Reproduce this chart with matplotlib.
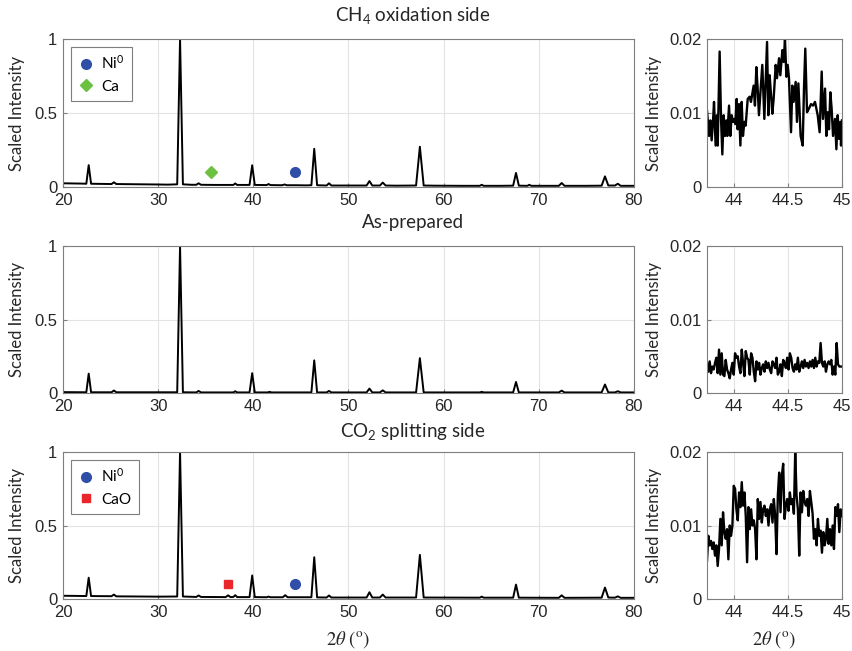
import numpy as np
import matplotlib
matplotlib.use("Agg")
import matplotlib.pyplot as plt
from matplotlib.lines import Line2D

plt.rcParams['font.family'] = ['Liberation Sans', 'DejaVu Sans']
plt.rcParams['mathtext.default'] = 'regular'

# full scans, 2theta (deg) and scaled intensity
ch4_x = [20.0, 21.0, 22.0, 22.45, 22.7, 22.95, 24.0, 25.1, 25.35, 25.6, 27.0, 28.5, 30.0, 31.0,
         32.0, 32.3, 32.6, 33.5, 34.0, 34.25, 34.5, 36.0, 37.9, 38.1, 38.3, 39.6, 39.88, 40.15,
         41.4, 41.6, 41.8, 43.0, 43.3, 43.5, 44.5, 45.5, 46.1, 46.4, 46.7, 47.7, 47.95, 48.2,
         50.0, 51.9, 52.2, 52.5, 53.3, 53.6, 53.9, 55.0, 57.1, 57.5, 57.9, 59.0, 62.0, 63.8,
         64.0, 64.2, 66.0, 67.3, 67.6, 67.9, 68.8, 69.0, 69.2, 72.1, 72.4, 72.7, 75.0, 76.6,
         76.95, 77.3, 78.0, 78.3, 78.6, 80.0]
ch4_y = [0.025, 0.024, 0.023, 0.022, 0.148, 0.022, 0.021, 0.020, 0.032, 0.020, 0.019, 0.018, 0.017, 0.016,
         0.018, 1.0, 0.018, 0.015, 0.015, 0.025, 0.015, 0.014, 0.014, 0.024, 0.014, 0.014, 0.147, 0.014,
         0.013, 0.020, 0.013, 0.012, 0.017, 0.012, 0.012, 0.011, 0.012, 0.258, 0.012, 0.010, 0.025, 0.010,
         0.010, 0.010, 0.040, 0.010, 0.010, 0.030, 0.010, 0.009, 0.010, 0.272, 0.010, 0.009, 0.008, 0.008,
         0.015, 0.008, 0.008, 0.009, 0.095, 0.009, 0.008, 0.015, 0.008, 0.008, 0.027, 0.008, 0.008, 0.009,
         0.072, 0.010, 0.010, 0.022, 0.008, 0.008]

prep_x = [20.0, 22.45, 22.7, 22.95, 25.1, 25.35, 25.6, 32.0, 32.3, 32.6, 34.0, 34.25, 34.5, 37.9,
          38.1, 38.3, 39.6, 39.88, 40.15, 41.5, 41.7, 41.9, 46.1, 46.4, 46.7, 47.7, 47.95, 48.2,
          51.9, 52.2, 52.5, 53.3, 53.6, 53.9, 57.1, 57.5, 57.9, 63.8, 64.0, 64.2, 67.3, 67.6,
          67.9, 72.1, 72.4, 72.7, 76.6, 76.95, 77.3, 78.0, 78.3, 78.6, 80.0]
prep_y = [0.006, 0.005, 0.132, 0.005, 0.005, 0.017, 0.005, 0.005, 1.0, 0.005, 0.004, 0.014, 0.004, 0.004,
          0.012, 0.004, 0.004, 0.135, 0.004, 0.004, 0.008, 0.004, 0.004, 0.222, 0.004, 0.004, 0.014, 0.004,
          0.004, 0.030, 0.004, 0.004, 0.018, 0.004, 0.004, 0.237, 0.004, 0.004, 0.008, 0.004, 0.004, 0.075,
          0.004, 0.004, 0.016, 0.004, 0.004, 0.058, 0.004, 0.004, 0.012, 0.004, 0.004]

co2_x = [20.0, 21.5, 22.45, 22.7, 22.95, 25.1, 25.35, 25.6, 28.0, 30.0, 32.0, 32.3, 32.6, 34.0,
         34.25, 34.5, 37.1, 37.35, 37.6, 37.9, 38.1, 38.3, 39.6, 39.88, 40.15, 41.4, 41.6, 41.8,
         43.1, 43.35, 43.6, 46.1, 46.4, 46.7, 47.7, 47.95, 48.2, 51.9, 52.2, 52.5, 53.3, 53.6,
         53.9, 57.1, 57.5, 57.9, 63.8, 64.0, 64.2, 67.3, 67.6, 67.9, 72.1, 72.4, 72.7, 76.6,
         76.95, 77.3, 78.0, 78.3, 78.6, 80.0]
co2_y = [0.022, 0.021, 0.020, 0.145, 0.020, 0.019, 0.030, 0.018, 0.017, 0.016, 0.017, 1.0, 0.017, 0.014,
         0.024, 0.014, 0.013, 0.025, 0.013, 0.014, 0.026, 0.013, 0.013, 0.160, 0.013, 0.012, 0.016, 0.012,
         0.012, 0.026, 0.012, 0.012, 0.284, 0.011, 0.010, 0.024, 0.010, 0.010, 0.046, 0.010, 0.010, 0.030,
         0.010, 0.010, 0.300, 0.010, 0.009, 0.016, 0.009, 0.009, 0.098, 0.009, 0.008, 0.025, 0.008, 0.009,
         0.078, 0.010, 0.009, 0.018, 0.008, 0.008]

# close-up around the Ni(111) position
ch4_zx = [43.750, 43.760, 43.769, 43.781, 43.793, 43.806, 43.815, 43.830, 43.843, 43.849, 43.867, 43.880,
          43.892, 43.904, 43.917, 43.929, 43.938, 43.954, 43.966, 43.978, 43.991, 44.003, 44.012, 44.025,
          44.034, 44.046, 44.059, 44.071, 44.083, 44.096, 44.108, 44.127, 44.145, 44.157, 44.182, 44.194,
          44.207, 44.219, 44.231, 44.244, 44.262, 44.281, 44.306, 44.318, 44.330, 44.343, 44.355, 44.367,
          44.386, 44.398, 44.417, 44.429, 44.448, 44.460, 44.472, 44.485, 44.497, 44.509, 44.528, 44.540,
          44.552, 44.571, 44.583, 44.596, 44.617, 44.636, 44.648, 44.660, 44.676, 44.694, 44.713, 44.731,
          44.750, 44.775, 44.793, 44.812, 44.824, 44.843, 44.855, 44.867, 44.880, 44.892, 44.904, 44.917,
          44.935, 44.948, 44.960, 44.972, 44.985, 44.991, 45.000]
ch4_zy = [0.0103, 0.0085, 0.0069, 0.0090, 0.0063, 0.0090, 0.0115, 0.0056, 0.0097, 0.0056, 0.0183, 0.0092,
          0.0044, 0.0097, 0.0069, 0.0090, 0.0069, 0.0110, 0.0069, 0.0097, 0.0088, 0.0092, 0.0085, 0.0119,
          0.0078, 0.0112, 0.0056, 0.0115, 0.0069, 0.0088, 0.0083, 0.0119, 0.0122, 0.0115, 0.0137, 0.0110,
          0.0162, 0.0133, 0.0097, 0.0126, 0.0165, 0.0092, 0.0196, 0.0097, 0.0151, 0.0124, 0.0099, 0.0119,
          0.0165, 0.0147, 0.0174, 0.0151, 0.0185, 0.0169, 0.0200, 0.0149, 0.0165, 0.0147, 0.0074, 0.0137,
          0.0115, 0.0142, 0.0088, 0.0140, 0.0069, 0.0056, 0.0133, 0.0187, 0.0101, 0.0106, 0.0112, 0.0110,
          0.0115, 0.0097, 0.0074, 0.0156, 0.0092, 0.0133, 0.0069, 0.0101, 0.0078, 0.0128, 0.0106, 0.0069,
          0.0092, 0.0051, 0.0097, 0.0065, 0.0088, 0.0056, 0.0090]

prep_zy = [0.0041, 0.0029, 0.0043, 0.0027, 0.0036, 0.0032, 0.0041, 0.0048, 0.0027, 0.0059, 0.0025, 0.0054,
           0.0025, 0.0023, 0.0045, 0.0032, 0.0027, 0.0020, 0.0032, 0.0041, 0.0025, 0.0054, 0.0048, 0.0050,
           0.0036, 0.0027, 0.0059, 0.0041, 0.0023, 0.0057, 0.0048, 0.0045, 0.0025, 0.0054, 0.0048, 0.0029,
           0.0016, 0.0043, 0.0032, 0.0041, 0.0025, 0.0034, 0.0039, 0.0029, 0.0043, 0.0034, 0.0041, 0.0032,
           0.0027, 0.0043, 0.0039, 0.0034, 0.0048, 0.0025, 0.0029, 0.0039, 0.0023, 0.0045, 0.0041, 0.0034,
           0.0048, 0.0032, 0.0054, 0.0048, 0.0034, 0.0029, 0.0039, 0.0032, 0.0048, 0.0029, 0.0036, 0.0043,
           0.0034, 0.0045, 0.0036, 0.0041, 0.0034, 0.0043, 0.0036, 0.0045, 0.0034, 0.0048, 0.0036, 0.0043,
           0.0041, 0.0068, 0.0041, 0.0036, 0.0043, 0.0029, 0.0039, 0.0043, 0.0039, 0.0045, 0.0025, 0.0036,
           0.0025, 0.0068, 0.0039, 0.0036, 0.0036, 0.0036]

co2_zy = [0.0052, 0.0086, 0.0073, 0.0079, 0.0068, 0.0077, 0.0059, 0.0073, 0.0045, 0.0068, 0.0109, 0.0073,
          0.0118, 0.0091, 0.0082, 0.0095, 0.0054, 0.0100, 0.0086, 0.0100, 0.0154, 0.0150, 0.0122, 0.0107,
          0.0145, 0.0125, 0.0159, 0.0127, 0.0145, 0.0113, 0.0050, 0.0125, 0.0095, 0.0122, 0.0100, 0.0107,
          0.0095, 0.0054, 0.0136, 0.0109, 0.0132, 0.0104, 0.0122, 0.0127, 0.0113, 0.0122, 0.0100, 0.0122,
          0.0129, 0.0104, 0.0136, 0.0113, 0.0061, 0.0141, 0.0172, 0.0118, 0.0168, 0.0184, 0.0109, 0.0127,
          0.0136, 0.0120, 0.0145, 0.0129, 0.0136, 0.0116, 0.0200, 0.0141, 0.0122, 0.0059, 0.0145, 0.0118,
          0.0147, 0.0132, 0.0127, 0.0136, 0.0113, 0.0147, 0.0132, 0.0116, 0.0082, 0.0095, 0.0073, 0.0109,
          0.0086, 0.0093, 0.0063, 0.0091, 0.0073, 0.0082, 0.0109, 0.0075, 0.0095, 0.0073, 0.0100, 0.0068,
          0.0125, 0.0113, 0.0129, 0.0091, 0.0122, 0.0113]

titles = ['CH$_4$ oxidation side', 'As-prepared', 'CO$_2$ splitting side']

# phase markers: (label, x, y, marker, color)
ch4_marks = [('Ni$^0$', 44.4, 0.1, 'o', '#2f4ea8'), ('Ca', 35.6, 0.1, 'D', '#6cc142')]
co2_marks = [('Ni$^0$', 44.4, 0.1, 'o', '#2f4ea8'), ('CaO', 37.3, 0.1, 's', '#e8262b')]

rows = [
    (ch4_x, ch4_y, ch4_zx, ch4_zy, ch4_marks),
    (prep_x, prep_y, np.linspace(43.75, 45.0, len(prep_zy)), prep_zy, None),
    (co2_x, co2_y, np.linspace(43.75, 45.0, len(co2_zy)), co2_zy, co2_marks),
]

label_font = ['Lato', 'DejaVu Sans']
spine_col = '#7f7f7f'
grid_col = '#e3e3e3'

W, H = 853, 651
fig = plt.figure(figsize=(W / 100, H / 100), dpi=100)

row_box = [(39, 187), (246, 393), (452, 599)]
title_y = [15, 222, 432]


def style_axes(ax):
    for s in ax.spines.values():
        s.set_color(spine_col)
        s.set_linewidth(0.8)
    ax.tick_params(direction='in', length=3, color=spine_col, labelsize=12,
                   labelcolor='#262626', pad=4)
    ax.grid(True, color=grid_col, linewidth=0.8)
    ax.set_axisbelow(True)


for i, (x, y, zx, zy, marks) in enumerate(rows):
    top, bot = row_box[i]
    ax = fig.add_axes([63 / W, 1 - bot / H, (634 - 63) / W, (bot - top) / H])
    ax.plot(x, y, color='black', lw=1.4)
    handles = []
    if marks:
        for lab, mx, my, mk, col in marks:
            ax.plot([mx], [my], marker=mk, color=col, ms=7 if mk == 'o' else 6, ls='none')
            handles.append(Line2D([], [], marker=mk, color=col, ls='none',
                                  ms=7 if mk == 'o' else 6, label=lab))
        leg = ax.legend(handles=handles, loc='upper left', fancybox=False, framealpha=1,
                        edgecolor=spine_col, handlelength=1.0, handletextpad=0.5,
                        borderpad=0.5, labelspacing=0.5, bbox_to_anchor=(0.0, 1.0),
                        prop={'family': label_font, 'size': 11})
        leg.get_frame().set_linewidth(0.8)
    ax.set_xlim(20, 80)
    ax.set_ylim(0, 1)
    ax.set_xticks([20, 30, 40, 50, 60, 70, 80])
    ax.set_yticks([0, 0.5, 1])
    ax.set_yticklabels(['0', '0.5', '1'])
    style_axes(ax)
    ax.set_ylabel('Scaled Intensity', family=label_font, fontsize=12, color='#262626')
    ax.yaxis.set_label_coords(-0.066, 0.5)

    az = fig.add_axes([707 / W, 1 - bot / H, (842 - 707) / W, (bot - top) / H])
    az.plot(zx, zy, color='black', lw=1.7)
    az.set_xlim(43.75, 45)
    az.set_ylim(0, 0.02)
    az.set_xticks([44, 44.5, 45])
    az.set_xticklabels(['44', '44.5', '45'])
    az.set_yticks([0, 0.01, 0.02])
    az.set_yticklabels(['0', '0.01', '0.02'])
    style_axes(az)
    az.set_ylabel('Scaled Intensity', family=label_font, fontsize=12, color='#262626')
    az.yaxis.set_label_coords(-0.335, 0.5)

    fig.text(413 / W, 1 - title_y[i] / H, titles[i], family=label_font, fontsize=13.5,
             color='#262626', ha='center', va='center')

    if i == 2:
        for a in (ax, az):
            a.set_xlabel(r'$\mathrm{2}\mathit{\theta}\ \mathrm{(^{o})}$', fontsize=13.5,
                         math_fontfamily='stix', color='#262626', labelpad=7)

fig.savefig('out.png', dpi=100)
